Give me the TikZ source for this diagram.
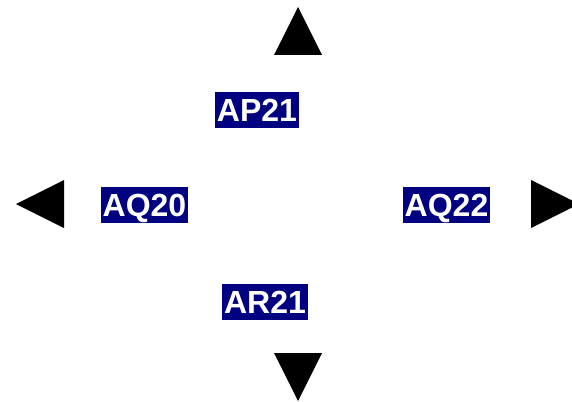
\documentclass[tikz,border=0pt]{standalone}
\usepackage{fontspec}
\setmainfont{Liberation Sans}
\definecolor{cellblue}{RGB}{0,0,128}
\tikzset{
  cell/.style={fill=cellblue, text=white, font=\fontsize{32}{32}\selectfont\bfseries,
    inner xsep=2pt, inner ysep=0pt, minimum height=36pt, text height=23pt, text depth=0pt},
  pointer/.style={fill=black}
}
\begin{document}
\begin{tikzpicture}[x=1pt,y=-1pt]
    \useasboundingbox (0,0) rectangle (572,401);
    % cell labels
    \node[cell] (ap21) at (257,110) {AP21};
    \node[cell] (aq20) at (144.5,204.5) {AQ20};
    \node[cell] (aq22) at (446.5,204.5) {AQ22};
    \node[cell] (ar21) at (265,301.5) {AR21};
    % direction pointers
    \fill[pointer] (274,55) -- (298,7) -- (322,55) -- cycle;
    \fill[pointer] (64,180) -- (16,204) -- (64,228) -- cycle;
    \fill[pointer] (531,180) -- (579,204) -- (531,228) -- cycle;
    \fill[pointer] (274,353) -- (298,401) -- (322,353) -- cycle;
\end{tikzpicture}
\end{document}
